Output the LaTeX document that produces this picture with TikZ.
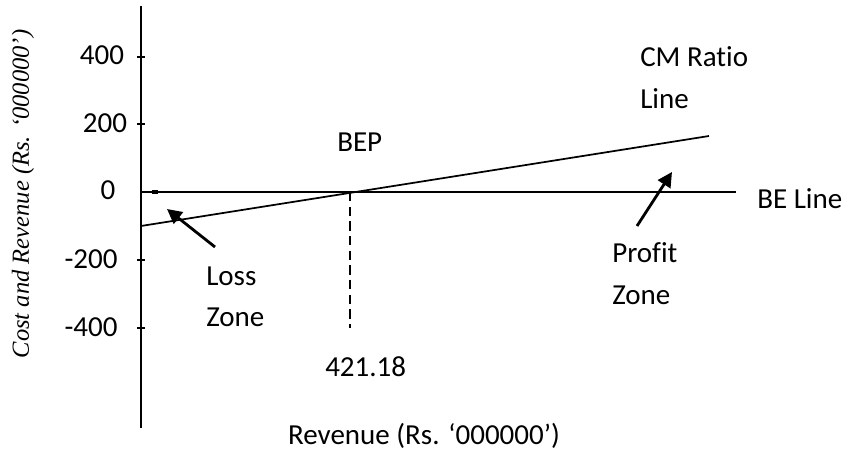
\documentclass[tikz,border=0pt]{standalone}
\usepackage{fontspec}
\setmainfont{Carlito}[Ligatures=NoCommon]
\newfontfamily\axisfont{Liberation Serif}
\usetikzlibrary{arrows.meta}
\tikzset{
  lbl/.style={inner sep=0pt, font=\fontsize{21.75}{26}\selectfont},
  axisline/.style={line width=1.4pt},
  chartline/.style={line width=1.3pt},
  tickmark/.style={line width=1.1pt},
  zonearrow/.style={line width=2.1pt, -{Triangle[length=11pt,width=11pt]}},
  guide/.style={line width=1.1pt, dash pattern=on 7pt off 4pt}
}
\begin{document}
\begin{tikzpicture}[x=0.75pt,y=-0.75pt]
\useasboundingbox (0,0) rectangle (844,456);

% axes
\coordinate (ytop) at (141,6);
\coordinate (ybot) at (141,428);
\coordinate (origin) at (141,192);
\coordinate (beend) at (736,192);
\draw[axisline] (ytop) -- (ybot);
\draw[axisline] (origin) -- (beend);
\draw[line width=2.4pt] (152,192) -- (158,192);

% ticks and tick labels
\foreach \yy in {57,124,260,328} \draw[tickmark] (137,\yy) -- (145,\yy);
\node[lbl, anchor=base] (t400) at (102,65) {400};
\node[lbl, anchor=base] (t200) at (105,133) {200};
\node[lbl, anchor=base] (t0) at (108,200) {0};
\node[lbl, anchor=base] (tm200) at (91,269) {-200};
\node[lbl, anchor=base] (tm400) at (91,337) {-400};

% contribution margin ratio line through the break-even point
\coordinate (cmstart) at (141,226);
\coordinate (bep) at (350,192);
\coordinate (cmend) at (709,136);
\draw[chartline] (cmstart) -- (cmend);

% break-even guide
\coordinate (bepfoot) at (350,328);
\draw[guide] (bep) -- (bepfoot);

% labels
\node[lbl, anchor=base west] (beplbl) at (337,152) {BEP};
\node[lbl, anchor=base west] (bepval) at (325,377) {421.18};
\node[lbl, anchor=base west] (cm1) at (640,67) {CM Ratio};
\node[lbl, anchor=base west] (cm2) at (640,109) {Line};
\node[lbl, anchor=base west] (belbl) at (757,209) {BE Line};
\node[lbl, anchor=base west] (loss1) at (206,286) {Loss};
\node[lbl, anchor=base west] (loss2) at (206,327) {Zone};
\node[lbl, anchor=base west] (prof1) at (612,263) {Profit};
\node[lbl, anchor=base west] (prof2) at (612,305) {Zone};
\node[lbl, anchor=base] (xlbl) at (424,445) {Revenue (Rs. ‘000000’)};
\node[inner sep=0pt, rotate=90, font=\axisfont\itshape\fontsize{18.4}{22}\selectfont] (ylbl) at (23,194) {Cost and Revenue (Rs. ‘000000’)};

% zone arrows
\coordinate (losstail) at (215,247);
\coordinate (losstip) at (167,209);
\coordinate (proftail) at (637,226);
\coordinate (proftip) at (672,172);
\draw[zonearrow] (losstail) -- (losstip);
\draw[zonearrow] (proftail) -- (proftip);
\end{tikzpicture}
\end{document}
